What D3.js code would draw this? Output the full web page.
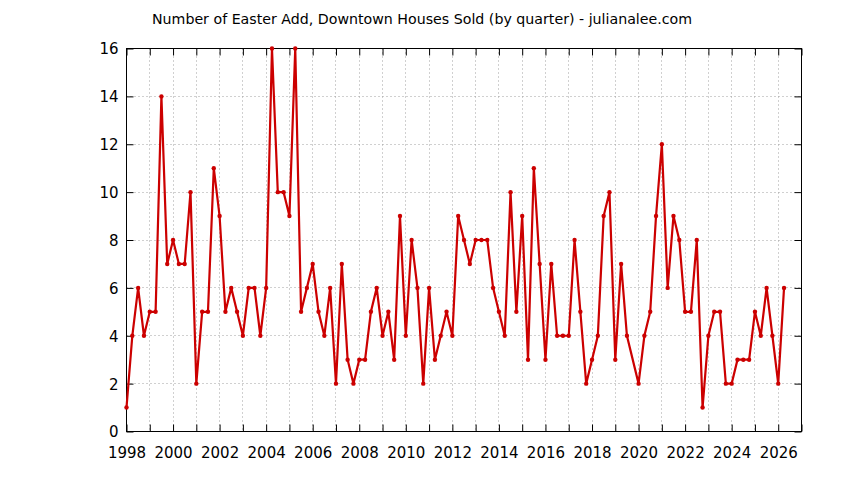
<!DOCTYPE html>
<html>
<head>
<meta charset="utf-8">
<script src="https://cdn.jsdelivr.net/npm/d3@7"></script>
<style>
  html, body { margin: 0; padding: 0; background: #fff; }
  svg { display: block; }
  text { font-family: "DejaVu Sans", sans-serif; fill: #000; }
</style>
</head>
<body>
<div id="chart"></div>
<script>
const chartTitle = "Number of Easter Add, Downtown Houses Sold (by quarter) - julianalee.com";

// Quarter labels (2019 Q4 has no data point in the source)
const quarters = [
  "1998Q1","1998Q2","1998Q3","1998Q4",
  "1999Q1","1999Q2","1999Q3","1999Q4",
  "2000Q1","2000Q2","2000Q3","2000Q4",
  "2001Q1","2001Q2","2001Q3","2001Q4",
  "2002Q1","2002Q2","2002Q3","2002Q4",
  "2003Q1","2003Q2","2003Q3","2003Q4",
  "2004Q1","2004Q2","2004Q3","2004Q4",
  "2005Q1","2005Q2","2005Q3","2005Q4",
  "2006Q1","2006Q2","2006Q3","2006Q4",
  "2007Q1","2007Q2","2007Q3","2007Q4",
  "2008Q1","2008Q2","2008Q3","2008Q4",
  "2009Q1","2009Q2","2009Q3","2009Q4",
  "2010Q1","2010Q2","2010Q3","2010Q4",
  "2011Q1","2011Q2","2011Q3","2011Q4",
  "2012Q1","2012Q2","2012Q3","2012Q4",
  "2013Q1","2013Q2","2013Q3","2013Q4",
  "2014Q1","2014Q2","2014Q3","2014Q4",
  "2015Q1","2015Q2","2015Q3","2015Q4",
  "2016Q1","2016Q2","2016Q3","2016Q4",
  "2017Q1","2017Q2","2017Q3","2017Q4",
  "2018Q1","2018Q2","2018Q3","2018Q4",
  "2019Q1","2019Q2","2019Q3",
  "2020Q1","2020Q2","2020Q3","2020Q4",
  "2021Q1","2021Q2","2021Q3","2021Q4",
  "2022Q1","2022Q2","2022Q3","2022Q4",
  "2023Q1","2023Q2","2023Q3","2023Q4",
  "2024Q1","2024Q2","2024Q3","2024Q4",
  "2025Q1","2025Q2","2025Q3","2025Q4",
  "2026Q1","2026Q2"
];

const housesSold = [
  1,4,6,4,
  5,5,14,7,
  8,7,7,10,
  2,5,5,11,
  9,5,6,5,
  4,6,6,4,
  6,16,10,10,
  9,16,5,6,
  7,5,4,6,
  2,7,3,2,
  3,3,5,6,
  4,5,3,9,
  4,8,6,2,
  6,3,4,5,
  4,9,8,7,
  8,8,8,6,
  5,4,10,5,
  9,3,11,7,
  3,7,4,4,
  4,8,5,2,
  3,4,9,10,
  3,7,4,
  2,4,5,9,
  12,6,9,8,
  5,5,8,1,
  4,5,5,2,
  2,3,3,3,
  5,4,6,4,
  2,6
];

const xTickYears = d3.range(1998, 2028, 1);
const xLabelYears = [1998,2000,2002,2004,2006,2008,2010,2012,2014,2016,2018,2020,2022,2024,2026];
const yTicks = [0,2,4,6,8,10,12,14,16];

const W = 844, H = 480;
const margin = { left: 126, right: 43, top: 48, bottom: 49 };
const pw = W - margin.left - margin.right;
const ph = H - margin.top - margin.bottom;

const data = quarters.map((q, i) => {
  const yr = +q.slice(0, 4), qn = +q.slice(5);
  return { t: yr + (qn - 1) / 4, v: housesSold[i] };
});

const x = d3.scaleLinear().domain([1998, 2027]).range([0, pw]);
const y = d3.scaleLinear().domain([0, 16]).range([ph, 0]);

const svg = d3.select("#chart").append("svg")
  .attr("width", W).attr("height", H);
svg.append("rect").attr("width", W).attr("height", H).attr("fill", "#fff");

svg.append("text")
  .attr("x", W / 2).attr("y", 24)
  .attr("text-anchor", "middle")
  .style("font-size", "14.2px")
  .text(chartTitle);

const g = svg.append("g").attr("transform", `translate(${margin.left + 0.5},${margin.top + 0.5})`);

// grid
const gridColor = "#a0a0a0";
g.append("g").selectAll("line").data(yTicks.filter(d => d > 0 && d < 16)).join("line")
  .attr("x1", 0).attr("x2", pw)
  .attr("y1", d => Math.round(y(d))).attr("y2", d => Math.round(y(d)))
  .attr("stroke", gridColor).attr("stroke-width", 1).attr("stroke-dasharray", "1,3");
g.append("g").selectAll("line").data(xTickYears.filter(d => d > 1998 && d < 2027)).join("line")
  .attr("y1", 0).attr("y2", ph)
  .attr("x1", d => Math.round(x(d))).attr("x2", d => Math.round(x(d)))
  .attr("stroke", gridColor).attr("stroke-width", 1).attr("stroke-dasharray", "1,3");

// axes (ticks inward, mirrored)
const tickLen = 7;
const xAxisB = d3.axisBottom(x).tickValues(xTickYears).tickSize(-tickLen).tickSizeOuter(0)
  .tickFormat(d => xLabelYears.includes(d) ? String(d) : "");
const xAxisT = d3.axisTop(x).tickValues(xTickYears).tickSize(-tickLen).tickSizeOuter(0).tickFormat("");
const yAxisL = d3.axisLeft(y).tickValues(yTicks).tickSize(-tickLen).tickSizeOuter(0).tickFormat(d3.format("d"));
const yAxisR = d3.axisRight(y).tickValues(yTicks).tickSize(-tickLen).tickSizeOuter(0).tickFormat("");

const gxb = g.append("g").attr("transform", `translate(0,${ph})`).call(xAxisB);
const gxt = g.append("g").call(xAxisT);
const gyl = g.append("g").call(yAxisL);
const gyr = g.append("g").attr("transform", `translate(${pw},0)`).call(yAxisR);
[gxb, gxt, gyl, gyr].forEach(a => {
  a.select(".domain").remove();
  a.selectAll(".tick line").attr("stroke", "#000");
  a.selectAll("text").style("font-size", "15px").style("font-family", "'DejaVu Sans', sans-serif").attr("fill", "#000");
});
gxb.selectAll("text").attr("dy", null).attr("y", 26);
gyl.selectAll("text").attr("x", -8).attr("dy", "0.36em");

// frame
g.append("rect").attr("x", 0).attr("y", 0).attr("width", pw).attr("height", ph)
  .attr("fill", "none").attr("stroke", "#000").attr("stroke-width", 1);

// series
const red = "#cc0000";
g.append("path").datum(data)
  .attr("fill", "none").attr("stroke", red).attr("stroke-width", 2.2)
  .attr("stroke-linejoin", "miter")
  .attr("d", d3.line().x(d => x(d.t)).y(d => y(d.v)));
g.append("g").selectAll("circle").data(data).join("circle")
  .attr("cx", d => x(d.t)).attr("cy", d => y(d.v)).attr("r", 2.2)
  .attr("fill", red);
</script>
</body>
</html>
